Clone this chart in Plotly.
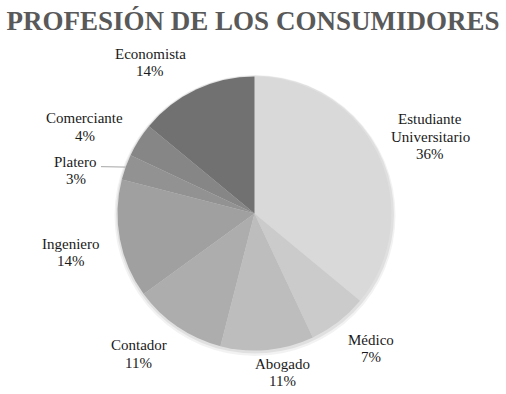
import math
import plotly.graph_objects as go

categories = ["Estudiante Universitario", "Médico", "Abogado", "Contador",
              "Ingeniero", "Platero", "Comerciante", "Economista"]
label_lines = [["Estudiante", "Universitario"], ["Médico"], ["Abogado"], ["Contador"],
               ["Ingeniero"], ["Platero"], ["Comerciante"], ["Economista"]]
values = [36, 7, 11, 11, 14, 3, 4, 14]
colors = ["#d9d9d9", "#cbcbcb", "#bdbdbd", "#adadad",
          "#a0a0a0", "#929292", "#868686", "#717171"]
# label placement style: (radial factor, angle nudge in degrees)
label_style = [(1.40, 1.6), (1.30, -2.9), (1.18, -4.6), (1.33, 5.3),
               (1.37, -1.2), (1.34, -6.3), (1.39, -5.4), (1.34, -9.4)]

W, H = 506, 394
cx, cy, R = 254.5, 213.5, 137
LINE = 17.5


def dom(x0, y0, r):
    return dict(x=[(x0 - r) / W, (x0 + r) / W], y=[1 - (y0 + r) / H, 1 - (y0 - r) / H])


fig = go.Figure()
# soft shadow layers
for dr, dy, a in [(3.5, 2.0, 0.05), (2.0, 1.0, 0.07)]:
    fig.add_trace(go.Pie(values=[1], labels=["s"], marker=dict(colors=[f"rgba(0,0,0,{a})"], line=dict(width=0)),
                         textinfo="none", hoverinfo="skip", showlegend=False, sort=False,
                         domain=dom(cx + 0.5, cy + dy, R + dr)))

fig.add_trace(go.Pie(
    labels=categories, values=values, sort=False, direction="clockwise",
    rotation=0, marker=dict(colors=colors, line=dict(width=0)),
    textinfo="none", hoverinfo="label+percent", showlegend=False,
    domain=dom(cx, cy, R),
))

total = sum(values)
cum = 0
for lines, v, (f, nud) in zip(label_lines, values, label_style):
    mid_deg = (cum + v / 2) / total * 360
    cum += v
    ang = math.radians(mid_deg + nud)
    px = cx + R * f * math.sin(ang)
    py = cy - R * f * math.cos(ang)
    pct = round(v / total * 100)
    texts = lines + [f"{pct}%"]
    n = len(texts)
    for i, t in enumerate(texts):
        ly = py + (i - (n - 1) / 2) * LINE
        fig.add_annotation(
            x=px / W, y=1 - ly / H, xref="paper", yref="paper",
            text=t, showarrow=False,
            font=dict(family="Liberation Serif", size=15, color="#1a1a1a"),
            align="center", xanchor="center", yanchor="middle",
        )
    if lines[0] == "Platero":
        m = math.radians(mid_deg)
        ex, ey = cx + R * math.sin(m), cy - R * math.cos(m)
        fig.add_shape(type="line", xref="paper", yref="paper",
                      x0=ex / W, y0=1 - ey / H, x1=(px + 25) / W, y1=1 - (py - 4) / H,
                      line=dict(color="#a6a6a6", width=1))

fig.update_layout(
    width=W, height=H,
    margin=dict(l=0, r=0, t=0, b=0),
    paper_bgcolor="white", plot_bgcolor="white",
    title=dict(text="<b>PROFESIÓN DE LOS CONSUMIDORES</b>", x=0.5, xanchor="center",
               y=1 - 21 / H, yanchor="middle",
               font=dict(family="Liberation Serif", size=27, color="#595959")),
)

fig.write_html("out.html", config={"displayModeBar": False},
               post_script="document.body.style.margin='0';")
